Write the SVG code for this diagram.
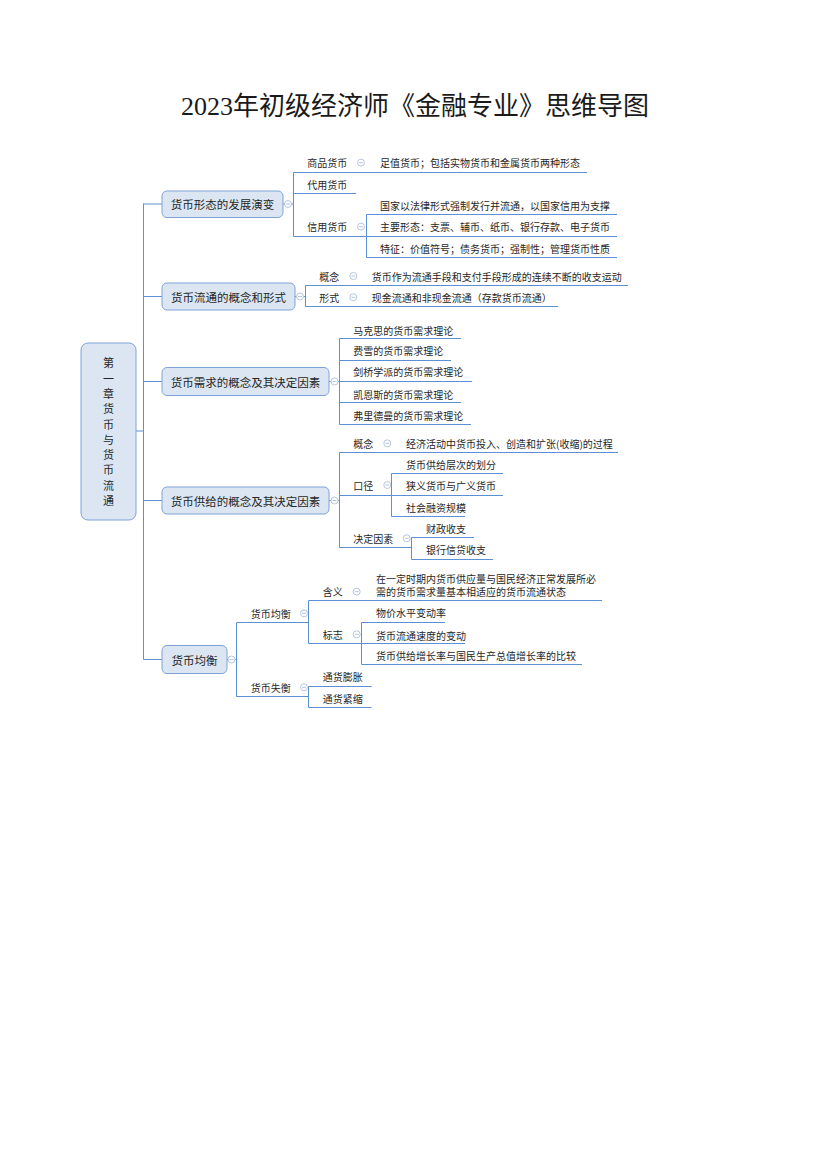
<svg xmlns="http://www.w3.org/2000/svg" width="830" height="1175" viewBox="0 0 830 1175">
<style>
text{font-family:"Noto Sans CJK SC","Microsoft YaHei",sans-serif;fill:#262626;dominant-baseline:central}
.t{font-size:10px}
.b{font-size:11.5px;text-anchor:middle}
.r{font-size:11px;text-anchor:middle}
.title{font-family:"Liberation Serif","Noto Sans CJK SC",serif;font-size:26px;text-anchor:middle;dominant-baseline:auto;fill:#1a1a1a}
.box{fill:#dce6f3;stroke:#7ea3d8;stroke-width:1}
.ln{fill:none;stroke:#5b8fd6;stroke-width:1}
</style>
<defs>
<g id="col"><circle r="3.5" fill="#ffffff" stroke="#b5c6e0" stroke-width="1"/><path d="M-2,0H2" stroke="#b5c6e0" stroke-width="1"/></g>
</defs>
<rect width="830" height="1175" fill="#fff"/>
<text class="title" x="415" y="115">2023年初级经济师《金融专业》思维导图</text>

<g id="connectors" class="ln">
<path d="M136,431H143.5M143.5,203.5V659.5M143.5,204H162M143.5,296.5H162M143.5,381.5H162M143.5,500.5H162M143.5,659.5H162"/>
<path d="M283,204H293.5M293.5,172.5V236.5M293.5,172.5H587M293.5,193.5H356M293.5,236.5H366.5M366.5,214.5V257.5M366.5,214.5H617M366.5,236.5H617M366.5,257.5H617"/>
<path d="M295,296.5H305.5M305.5,285.5V306.5M305.5,285.5H628M305.5,306.5H558"/>
<path d="M329,381.5H339.5M339.5,338.5V424.5M339.5,338.5H461M339.5,360.5H451M339.5,381.5H472M339.5,402.5H461M339.5,424.5H471"/>
<path d="M329,500.5H339.5M339.5,452.5V547.5M339.5,452.5H618M339.5,495.5H503M391.5,473.5V516.5M391.5,473.5H503M391.5,516.5H465M339.5,547.5H411.5M411.5,537.5V559.5M411.5,537.5H474M411.5,559.5H493"/>
<path d="M227,659.5H236.5M236.5,622.5V696.5M236.5,622.5H308.5M308.5,600.5V643.5M308.5,600.5H602M308.5,643.5H361.5M361.5,622.5V664.5M361.5,622.5H445M361.5,643.5H465M361.5,664.5H582M236.5,696.5H308.5M308.5,686.5V707.5M308.5,686.5H371.5M308.5,707.5H371.5"/>
</g>

<g id="collapse-marks">
<use href="#col" x="288" y="204"/>
<use href="#col" x="300" y="296.5"/>
<use href="#col" x="334.5" y="381.5"/>
<use href="#col" x="334.5" y="500.5"/>
<use href="#col" x="231.5" y="659.5"/>
<use href="#col" x="361" y="162.7"/>
<use href="#col" x="361" y="226.7"/>
<use href="#col" x="353.3" y="276"/>
<use href="#col" x="353.3" y="297.3"/>
<use href="#col" x="387.3" y="443.3"/>
<use href="#col" x="387.3" y="485"/>
<use href="#col" x="406.7" y="538.3"/>
<use href="#col" x="304" y="613.3"/>
<use href="#col" x="356.7" y="591.7"/>
<use href="#col" x="356.7" y="634.3"/>
<use href="#col" x="304" y="687.3"/>
</g>

<g id="root">
<rect class="box" x="81" y="343" width="55" height="177" rx="7"/>
<text class="r" x="108.5" y="362.3">第</text>
<text class="r" x="108.5" y="377.6">一</text>
<text class="r" x="108.5" y="392.9">章</text>
<text class="r" x="108.5" y="408.2">货</text>
<text class="r" x="108.5" y="423.5">币</text>
<text class="r" x="108.5" y="438.8">与</text>
<text class="r" x="108.5" y="454.1">货</text>
<text class="r" x="108.5" y="469.4">币</text>
<text class="r" x="108.5" y="484.7">流</text>
<text class="r" x="108.5" y="500">通</text>
</g>

<g id="b1">
<rect class="box" x="162" y="191" width="121" height="26.5" rx="5"/>
<text class="b" x="222.5" y="204">货币形态的发展演变</text>
</g>
<g id="b1-items">
<text class="t" x="307.3" y="162.7">商品货币</text>
<text class="t" x="380" y="162.7">足值货币；包括实物货币和金属货币两种形态</text>
<text class="t" x="307.3" y="184">代用货币</text>
<text class="t" x="307.3" y="226.7">信用货币</text>
<text class="t" x="380" y="205">国家以法律形式强制发行并流通，以国家信用为支撑</text>
<text class="t" x="380" y="226.7">主要形态：支票、辅币、纸币、银行存款、电子货币</text>
<text class="t" x="380" y="248.3">特征：价值符号；债务货币；强制性；管理货币性质</text>
</g>

<g id="b2">
<rect class="box" x="162" y="283" width="133" height="27" rx="5"/>
<text class="b" x="228.5" y="296.5">货币流通的概念和形式</text>
</g>
<g id="b2-items">
<text class="t" x="319.3" y="276">概念</text>
<text class="t" x="371.7" y="276">货币作为流通手段和支付手段形成的连续不断的收支运动</text>
<text class="t" x="319.3" y="297.3">形式</text>
<text class="t" x="371.7" y="297.3">现金流通和非现金流通（存款货币流通）</text>
</g>

<g id="b3">
<rect class="box" x="162" y="367.5" width="167" height="28" rx="5"/>
<text class="b" x="245.5" y="381.5">货币需求的概念及其决定因素</text>
</g>
<g id="b3-items">
<text class="t" x="353.3" y="330">马克思的货币需求理论</text>
<text class="t" x="353.3" y="350.7">费雪的货币需求理论</text>
<text class="t" x="353.3" y="371.7">剑桥学派的货币需求理论</text>
<text class="t" x="353.3" y="394">凯恩斯的货币需求理论</text>
<text class="t" x="353.3" y="415">弗里德曼的货币需求理论</text>
</g>

<g id="b4">
<rect class="box" x="162" y="487" width="167" height="27" rx="5"/>
<text class="b" x="245.5" y="500.5">货币供给的概念及其决定因素</text>
</g>
<g id="b4-items">
<text class="t" x="353.3" y="443.3">概念</text>
<text class="t" x="406" y="443.3">经济活动中货币投入、创造和扩张(收缩)的过程</text>
<text class="t" x="353.3" y="485">口径</text>
<text class="t" x="406" y="464.3">货币供给层次的划分</text>
<text class="t" x="406" y="485">狭义货币与广义货币</text>
<text class="t" x="406" y="507.3">社会融资规模</text>
<text class="t" x="353.3" y="538.3">决定因素</text>
<text class="t" x="426" y="528.3">财政收支</text>
<text class="t" x="426" y="549">银行信贷收支</text>
</g>

<g id="b5">
<rect class="box" x="162" y="645.5" width="65" height="28" rx="5"/>
<text class="b" x="194.5" y="659.5">货币均衡</text>
</g>
<g id="b5-items">
<text class="t" x="250.7" y="613.3">货币均衡</text>
<text class="t" x="322.7" y="591.7">含义</text>
<text class="t" x="376" y="578.3">在一定时期内货币供应量与国民经济正常发展所必</text>
<text class="t" x="376" y="591.7">需的货币需求量基本相适应的货币流通状态</text>
<text class="t" x="322.7" y="634.3">标志</text>
<text class="t" x="376" y="612.7">物价水平变动率</text>
<text class="t" x="376" y="635">货币流通速度的变动</text>
<text class="t" x="376" y="655.7">货币供给增长率与国民生产总值增长率的比较</text>
<text class="t" x="250.7" y="687.3">货币失衡</text>
<text class="t" x="322.7" y="676.7">通货膨胀</text>
<text class="t" x="322.7" y="698.3">通货紧缩</text>
</g>
</svg>
